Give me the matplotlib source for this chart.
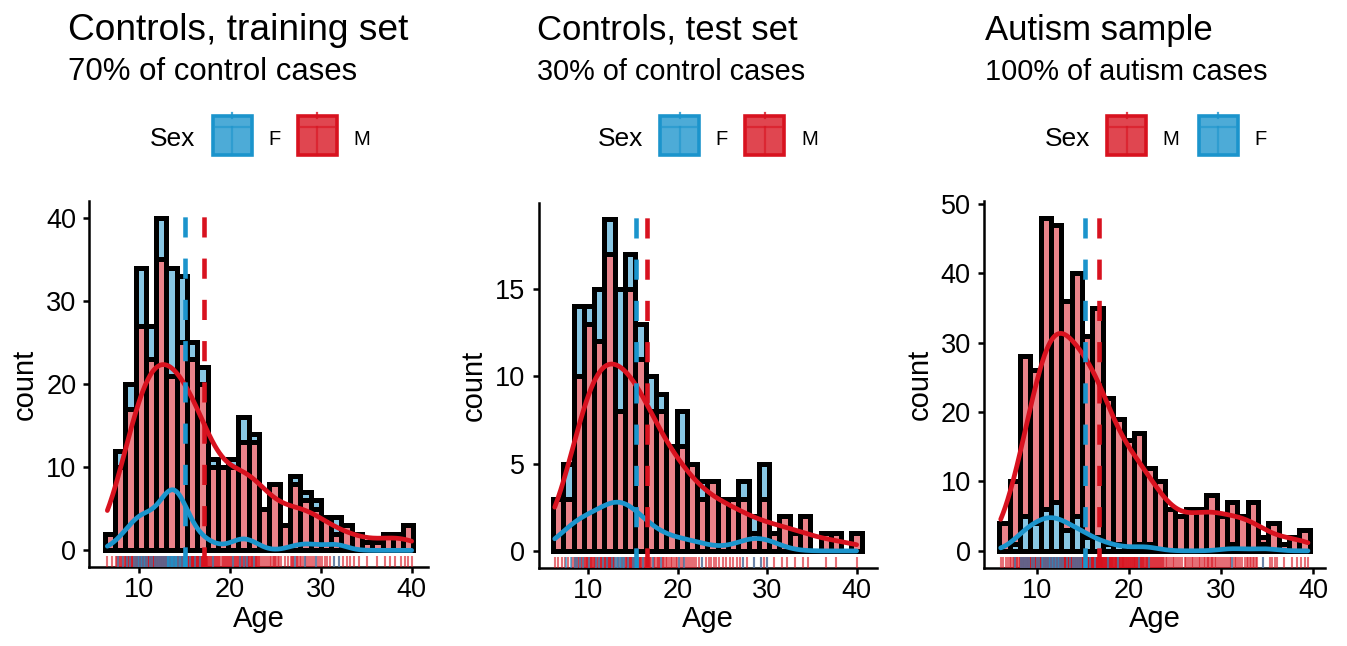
import numpy as np
import matplotlib
matplotlib.use("Agg")
import matplotlib.pyplot as plt
from matplotlib.colors import to_rgba
from matplotlib.patches import Rectangle
from matplotlib.lines import Line2D

plt.rcParams['font.family'] = ['Liberation Sans', 'DejaVu Sans']

RED = '#D8121F'
BLUE = '#1B94CC'

# counts per bin (30 bins)
train_m = [2, 10, 17, 27, 23, 35, 21, 25, 23, 20, 10, 10, 10, 13, 13,
           5, 8, 3, 8, 6, 5, 4, 2, 3, 2, 1, 1, 2, 2, 3]
train_f = [0, 2, 3, 7, 4, 5, 13, 8, 2, 2, 1, 0, 1, 3, 1,
           0, 0, 0, 1, 1, 1, 0, 2, 0, 0, 0, 0, 0, 0, 0]
test_m = [3, 3, 10, 13, 12, 17, 8, 15, 11, 8, 8, 6, 6, 5, 3,
          4, 3, 3, 3, 1, 3, 1, 2, 1, 2, 0, 1, 1, 0, 1]
test_f = [0, 2, 4, 1, 3, 2, 7, 2, 2, 2, 1, 0, 2, 0, 1,
          0, 0, 0, 1, 1, 2, 0, 0, 0, 0, 0, 0, 0, 0, 0]
aut_m = [4, 9, 23, 22, 42, 40, 33, 35, 29, 33, 21, 18, 16, 16, 11,
         10, 6, 5, 6, 6, 8, 5, 6, 5, 7, 1, 4, 1, 2, 3]
aut_f = [0, 1, 5, 4, 6, 7, 3, 5, 2, 2, 1, 1, 0, 1, 1,
         0, 0, 0, 0, 0, 0, 0, 1, 0, 0, 1, 0, 0, 0, 0]

# first bin edge and bin width (years)
train_bins = (6.2, 1.133)
test_bins = (6.06, 1.15)
aut_bins = (5.95, 1.122)

# mean age per sex (dashed lines)
train_mean = {'F': 15.0, 'M': 17.1}
test_mean = {'F': 15.3, 'M': 16.6}
aut_mean = {'F': 15.2, 'M': 16.8}

titles = ['Controls, training set', 'Controls, test set', 'Autism sample']
subtitles = ['70% of control cases', '30% of control cases', '100% of autism cases']

W, H = 1347, 646
fig = plt.figure(figsize=(W / 100, H / 100), dpi=100)


def fx(x):
    return x / W


def fy(y):
    return 1 - y / H


def ages(counts, start, width):
    # one value per case, spread inside its bin
    out = []
    for i, c in enumerate(counts):
        for k in range(c):
            out.append(start + width * (i + (k + 0.5) / c))
    return np.array(out)


def kde_count(x, grid):
    n = len(x)
    q75, q25 = np.percentile(x, [75, 25])
    bw = 0.9 * min(np.std(x, ddof=1), (q75 - q25) / 1.34) * n ** -0.2
    z = (grid[:, None] - x[None, :]) / bw
    return np.exp(-0.5 * z ** 2).sum(axis=1) / (bw * np.sqrt(2 * np.pi))


def panel(box, m, f, bins, means, xlim, ylim, yticks, f_top):
    left, right, top, bottom = box
    ax = fig.add_axes([fx(left), fy(bottom), fx(right - left), (bottom - top) / H])
    start, width = bins
    edges = start + width * np.arange(len(m))
    m = np.array(m)
    f = np.array(f)
    if f_top:
        low, high, c_low, c_high = m, f, RED, BLUE
    else:
        low, high, c_low, c_high = f, m, BLUE, RED
    ax.bar(edges, low, width=width, align='edge', facecolor=to_rgba(c_low, 0.52),
           edgecolor='black', linewidth=3.6, zorder=2)
    ax.bar(edges, high, bottom=low, width=width, align='edge',
           facecolor=to_rgba(c_high, 0.52), edgecolor='black', linewidth=3.6, zorder=2)

    am, af = ages(m, start, width), ages(f, start, width)
    allx = np.concatenate([am, af])
    grid = np.linspace(allx.min(), allx.max(), 400)
    y0, y1 = ylim
    rug_h = 0.03 * (y1 - y0)
    for a, col in [(am, RED), (af, BLUE)]:
        ax.plot(grid, kde_count(a, grid), color=col, lw=3.4, zorder=3,
                solid_capstyle='round')
        ax.vlines(a, y0, y0 + rug_h, color=col, alpha=0.6, lw=1.5, zorder=4)
    for key, col in [('F', BLUE), ('M', RED)]:
        ax.axvline(means[key], color=col, lw=3.3, ls=(0, (4.4, 4.6)), zorder=5)

    ax.set_xlim(*xlim)
    ax.set_ylim(*ylim)
    ax.set_xticks([10, 20, 30, 40])
    ax.set_yticks(yticks)
    for s in ['top', 'right']:
        ax.spines[s].set_visible(False)
    for s in ['left', 'bottom']:
        ax.spines[s].set_linewidth(1.8)
    ax.tick_params(axis='both', length=4.5, width=1.8, labelsize=19.5, colors='black')
    ax.tick_params(axis='x', pad=3)
    ax.tick_params(axis='y', pad=5)
    ax.set_xlabel('Age', fontsize=21, labelpad=1)
    ax.set_ylabel('count', fontsize=21, labelpad=5)
    return ax


def legend(s, order):
    y_top, y_bot = 116, 155
    fig.text(fx(s), fy(146.5), 'Sex', fontsize=19, va='baseline', ha='left')
    key1 = s + 62.7
    lab1 = s + 118
    first_w = 10.5 if order[0][0] == 'F' else 17
    key2 = lab1 + first_w + 19
    lab2 = key2 + 56
    for (lab, col), kx, lx in zip(order, [key1, key2], [lab1, lab2]):
        fig.add_artist(Rectangle((fx(kx), fy(y_bot)), fx(39), (y_bot - y_top) / H,
                                 transform=fig.transFigure, facecolor=to_rgba(col, 0.78),
                                 edgecolor=col, linewidth=2.6))
        cx = kx + 19.5
        fig.add_artist(Line2D([fx(kx + 3), fx(kx + 36)], [fy(127), fy(127)],
                              transform=fig.transFigure, color=col, alpha=0.6, lw=1.6))
        fig.add_artist(Line2D([fx(cx), fx(cx)], [fy(127), fy(y_bot)],
                              transform=fig.transFigure, color=col, alpha=0.6, lw=1.6))
        fig.add_artist(Line2D([fx(cx), fx(cx)], [fy(113), fy(118)],
                              transform=fig.transFigure, color=col, alpha=0.8, lw=1.6))
        fig.text(fx(lx), fy(145), lab, fontsize=14.5, va='baseline', ha='left')


panel((89.5, 428, 201, 567), train_m, train_f, train_bins, train_mean,
      (4.52, 41.8), (-2, 42), [0, 10, 20, 30, 40], True)
panel((538.5, 877, 202.5, 567.5), test_m, test_f, test_bins, test_mean,
      (4.44, 42.26), (-0.95, 19.95), [0, 5, 10, 15], True)
panel((984, 1325, 201, 567.5), aut_m, aut_f, aut_bins, aut_mean,
      (4.28, 41.27), (-2.4, 50.4), [0, 10, 20, 30, 40, 50], False)

for x0, t, st, ts, ss in zip([68, 537, 985], titles, subtitles,
                             [26.7, 25, 25], [22.4, 20.8, 20.8]):
    fig.text(fx(x0), fy(40), t, fontsize=ts, va='baseline', ha='left')
    fig.text(fx(x0), fy(80), st, fontsize=ss, va='baseline', ha='left')

legend(150, [('F', BLUE), ('M', RED)])
legend(597.7, [('F', BLUE), ('M', RED)])
legend(1044.5, [('M', RED), ('F', BLUE)])

fig.savefig('out.png', dpi=100)
